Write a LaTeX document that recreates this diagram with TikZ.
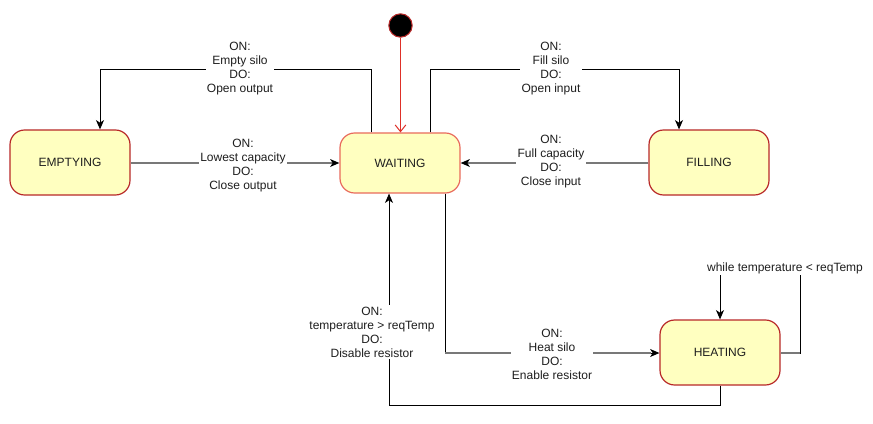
\documentclass[tikz,border=0pt]{standalone}
\usepackage{fontspec}
\setmainfont{Liberation Sans}
\usetikzlibrary{arrows.meta}
\definecolor{stfill}{RGB}{255,255,192}
\definecolor{stdark}{RGB}{184,40,40}
\definecolor{stlight}{RGB}{232,106,92}
\definecolor{redline}{RGB}{222,48,40}
\definecolor{txt}{RGB}{30,30,30}
\definecolor{grayline}{RGB}{120,120,120}
\begin{document}
\begin{tikzpicture}[x=0.75pt,y=-0.75pt,
  state/.style={draw=stdark,line width=0.9pt,fill=stfill,rounded corners=11pt,
    minimum width=90pt,minimum height=48.75pt,inner sep=0pt,text=txt,
    font=\fontsize{9}{10.5}\selectfont},
  lbl/.style={fill=white,align=center,inner sep=1pt,text=txt,
    font=\fontsize{9}{10.5}\selectfont},
  conn/.style={line width=0.75pt,black,-{Stealth[length=7pt,width=6pt,inset=2pt]}},
  gconn/.style={line width=1.5pt,grayline,-{Stealth[length=7pt,width=6pt,inset=2pt,color=black,line width=0pt]}}]
\useasboundingbox (0,0) rectangle (873,424);
% states
\node[state] (E) at (70,162.5) {EMPTYING};
\node[state,draw=stlight,minimum height=45pt] (W) at (400,163) {WAITING};
\node[state] (F) at (709,162.5) {FILLING};
\node[state] (H) at (720,352.5) {HEATING};
\node[circle,fill=black,draw=stdark,line width=0.8pt,minimum size=17.5pt,inner sep=0pt] (I) at (400.5,25.5) {};
% initial
\draw[redline,line width=0.75pt,-{Straight Barb[length=5pt,width=8pt]}] (I) -- (W.north -| I);
% corner coordinates
\coordinate (k1) at (371,70);
\coordinate (k2) at (100,70);
\coordinate (k3) at (430,70);
\coordinate (k4) at (679,70);
\coordinate (k5) at (445,353);
\coordinate (k6) at (720,405);
\coordinate (k7) at (389,405);
\coordinate (k8) at (800,268);
\coordinate (k9) at (720,268);
% edges
\draw[conn] (W.north -| k1) -- (k1) -- (k2) -- (E.north -| k2);
\draw[conn] (W.north -| k3) -- (k3) -- (k4) -- (F.north -| k4);
\draw[gconn] (E.east |- W.west) -- (W.west);
\draw[gconn] (F.west |- W.east) -- (W.east);
\draw[conn] (W.south -| k5) -- (k5) -- (H.west |- k5);
\draw[gconn,-] (k5) -- ([xshift=-6pt]H.west |- k5);
\draw[conn] (H.south -| k6) -- (k6) -- (k7) -- (W.south -| k7);
\draw[conn] (H.east |- k5) -- (k5 -| k8) -- (k8) -- (k9) -- (H.north -| k9);
\draw[gconn,-] (H.east |- k5) -- (k5 -| k8);
% labels
\node[lbl] (l1) at (240,69) {ON:\\Empty silo\\DO:\\Open output};
\node[lbl] (l2) at (551,69) {ON:\\Fill silo\\DO:\\Open input};
\node[lbl] (l3) at (243,166) {ON:\\Lowest capacity\\DO:\\Close output};
\node[lbl] (l4) at (551,162) {ON:\\Full capacity\\DO:\\Close input};
\node[lbl] (l5) at (552,354) {ON:\\Heat silo\\DO:\\Enable resistor};
\node[lbl] (l6) at (372,332) {ON:\\temperature > reqTemp\\DO:\\Disable resistor};
\node[lbl] (l7) at (785,268) {while temperature < reqTemp};
\end{tikzpicture}
\end{document}
